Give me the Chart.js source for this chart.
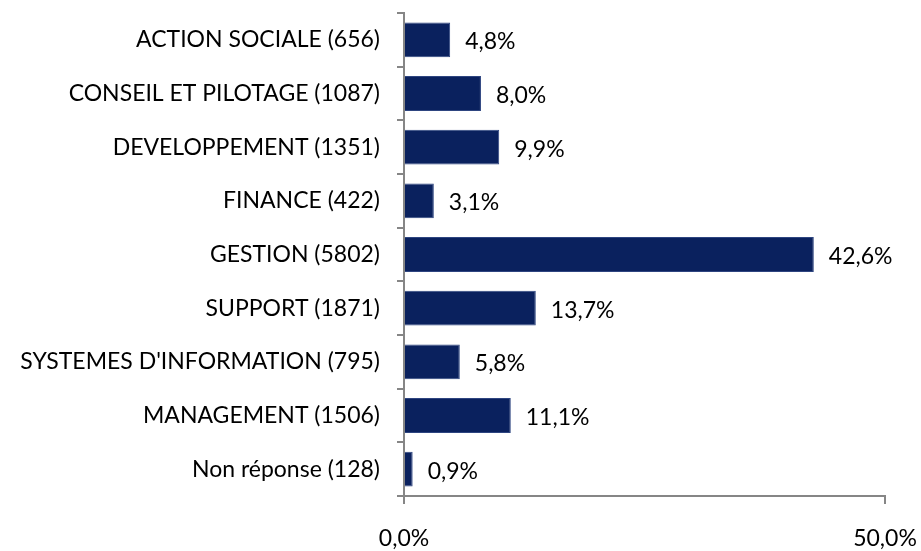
<!DOCTYPE html>
<html>
<head>
<meta charset="utf-8">
<script src="https://cdn.jsdelivr.net/npm/chart.js@4/dist/chart.umd.min.js"></script>
<style>
  html, body { margin: 0; padding: 0; background: #fff; }
  #wrap { width: 921px; height: 551px; }
</style>
</head>
<body>
<div id="wrap"><canvas id="myChart" width="921" height="551"></canvas></div>
<script>
const categories = [
  'ACTION SOCIALE (656)',
  'CONSEIL ET PILOTAGE (1087)',
  'DEVELOPPEMENT (1351)',
  'FINANCE (422)',
  'GESTION (5802)',
  'SUPPORT (1871)',
  "SYSTEMES D'INFORMATION (795)",
  'MANAGEMENT (1506)',
  'Non réponse (128)',
];
const percents = [4.8, 8.0, 9.9, 3.1, 42.6, 13.7, 5.8, 11.1, 0.9];
const xTicks = [0, 50];

const fontFamily = 'Lato, "Open Sans", sans-serif';
const fontSize = 23;
const axisGrey = '#868686';

const fmt = (v) => v.toFixed(1).replace('.', ',') + '%';

// etiquettes de valeur a droite des barres
const valueLabels = {
  id: 'valueLabels',
  afterDatasetsDraw(chart) {
    const { ctx } = chart;
    const meta = chart.getDatasetMeta(0);
    ctx.save();
    ctx.font = fontSize + 'px ' + fontFamily;
    ctx.fillStyle = '#000';
    ctx.textAlign = 'left';
    ctx.textBaseline = 'middle';
    meta.data.forEach((bar, i) => {
      ctx.fillText(fmt(percents[i]), bar.x + 15, bar.y + 2);
    });
    ctx.restore();
  },
};

const ctx = document.getElementById('myChart');

new Chart(ctx, {
  type: 'bar',
  data: {
    labels: categories,
    datasets: [
      {
        data: percents,
        backgroundColor: '#0A215E',
        borderColor: '#2E4580',
        borderWidth: 1,
        categoryPercentage: 1,
        barPercentage: 0.65,
      },
    ],
  },
  options: {
    indexAxis: 'y',
    responsive: false,
    animation: false,
    layout: {
      padding: { top: 13, right: 36, left: 0, bottom: 0 },
    },
    plugins: {
      legend: { display: false },
      tooltip: { enabled: false },
    },
    scales: {
      x: {
        min: 0,
        max: 50,
        afterBuildTicks: (scale) => {
          scale.ticks = xTicks.map((v) => ({ value: v }));
        },
        afterFit: (scale) => {
          scale.height = 55;
          scale.paddingLeft = 0;
          scale.paddingRight = 0;
        },
        border: { display: true, color: axisGrey, width: 2 },
        grid: {
          drawOnChartArea: false,
          drawTicks: true,
          tickLength: 8,
          color: axisGrey,
          lineWidth: 2,
        },
        ticks: {
          maxRotation: 0,
          padding: 21,
          color: '#000',
          font: { family: fontFamily, size: fontSize },
          callback: (v) => fmt(v),
        },
      },
      y: {
        afterFit: (scale) => {
          scale.width = 404;
          scale.paddingTop = 0;
          scale.paddingBottom = 0;
        },
        border: { display: true, color: axisGrey, width: 2 },
        grid: {
          offset: true,
          drawOnChartArea: false,
          tickLength: 7,
          color: axisGrey,
          lineWidth: 2,
        },
        ticks: {
          padding: 17,
          color: '#000',
          font: { family: fontFamily, size: fontSize },
        },
      },
    },
  },
  plugins: [valueLabels],
});
</script>
</body>
</html>
